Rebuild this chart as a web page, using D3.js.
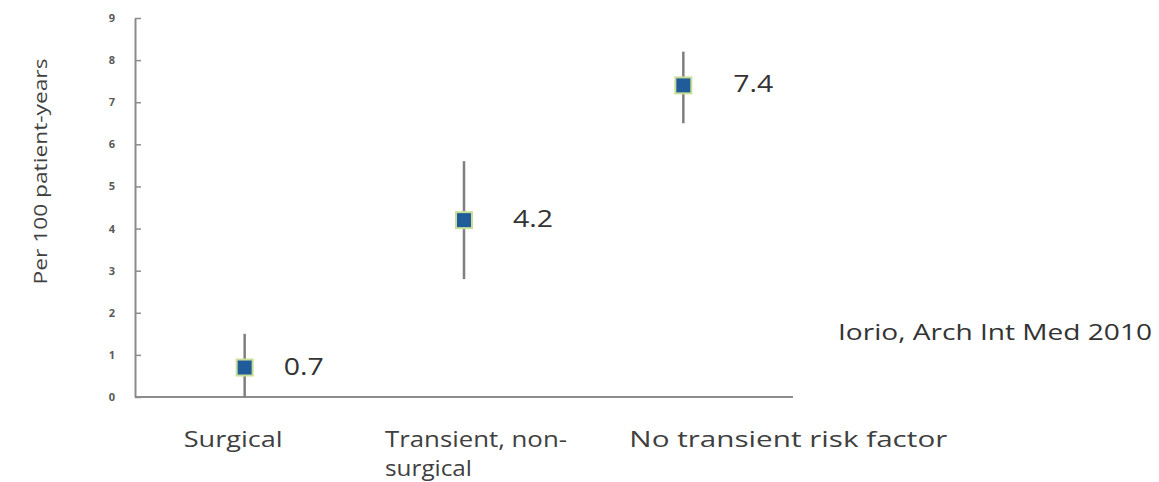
<!DOCTYPE html>
<html>
<head>
<meta charset="utf-8">
<script src="https://cdn.jsdelivr.net/npm/d3@7"></script>
<style>
  html, body { margin: 0; padding: 0; background: #fff; }
  svg { display: block; }
  text { font-family: "Open Sans", "Noto Sans", sans-serif; }
</style>
</head>
<body>
<svg id="chart" width="1159" height="482"></svg>
<script>
// Recurrence rate by type of provoking factor (per 100 patient-years)
const categories = ["Surgical", "Transient, non-surgical", "No transient risk factor"];
const categoryLines = [["Surgical"], ["Transient, non-", "surgical"], ["No transient risk factor"]];
const rates = [0.7, 4.2, 7.4];
const ciLow = [0.0, 2.8, 6.5];
const ciHigh = [1.5, 5.6, 8.2];
const yTicks = [0, 1, 2, 3, 4, 5, 6, 7, 8, 9];
const yTitle = "Per 100 patient-years";
const source = "Iorio, Arch Int Med 2010";

const svg = d3.select("#chart");
const plot = { left: 135, right: 793, top: 18, bottom: 397 };

const x = d3.scaleBand().domain(categories).range([plot.left, plot.right]);
const y = d3.scaleLinear().domain([0, 9]).range([plot.bottom, plot.top]);
const cx = d => x(d) + x.bandwidth() / 2;

// the slide text is set wide; widen a text run to a given length
const widen = (sel, len) => sel.attr("textLength", len).attr("lengthAdjust", "spacingAndGlyphs");

// y axis: ticks point into the plot
const yAxis = svg.append("g")
  .attr("transform", `translate(${plot.left},0)`)
  .call(d3.axisLeft(y).tickValues(yTicks).tickSize(-6).tickPadding(20).tickSizeOuter(0));
yAxis.select(".domain").attr("stroke", "#8c8c8c").attr("stroke-width", 2);
yAxis.selectAll(".tick line").attr("stroke", "#8c8c8c").attr("stroke-width", 1.5);
yAxis.selectAll(".tick text")
  .attr("fill", "#595959").attr("font-size", 11).attr("font-weight", "bold");

// x axis baseline
svg.append("line")
  .attr("x1", plot.left).attr("x2", plot.right)
  .attr("y1", y(0)).attr("y2", y(0))
  .attr("stroke", "#8c8c8c").attr("stroke-width", 2);

// y title
svg.append("text")
  .attr("transform", `translate(47,${(y(0) + y(9)) / 2 - 36}) rotate(-90)`)
  .attr("text-anchor", "middle")
  .attr("font-size", 19)
  .attr("fill", "#404040")
  .text(yTitle)
  .call(widen, 226);

// category labels under the axis
const lineWidths = [[99], [182, 87], [318]];
const labelLeft = [-61, -79, -54];
svg.append("g").selectAll("text")
  .data(categories)
  .join("text")
  .attr("font-size", 21)
  .attr("fill", "#404040")
  .attr("y", 447)
  .each(function (d, i) {
    const t = d3.select(this);
    categoryLines[i].forEach((line, j) => {
      t.append("tspan")
        .attr("x", cx(d) + labelLeft[i])
        .attr("dy", j === 0 ? 0 : 29)
        .text(line)
        .call(widen, lineWidths[i][j]);
    });
  });

// interval whiskers
svg.append("g").selectAll("line")
  .data(categories)
  .join("line")
  .attr("x1", cx).attr("x2", cx)
  .attr("y1", (d, i) => y(ciLow[i]))
  .attr("y2", (d, i) => y(ciHigh[i]))
  .attr("stroke", "#7f7f7f").attr("stroke-width", 2.5);

// point estimates
const m = 16;
svg.append("g").selectAll("rect")
  .data(categories)
  .join("rect")
  .attr("x", d => cx(d) - m / 2)
  .attr("y", (d, i) => y(rates[i]) - m / 2)
  .attr("width", m).attr("height", m)
  .attr("fill", "#1f5c99")
  .attr("stroke", "#c9df98").attr("stroke-width", 2);

// value labels beside each marker
const valueGap = [39, 49, 50];
svg.append("g").selectAll("text")
  .data(categories)
  .join("text")
  .attr("x", (d, i) => cx(d) + valueGap[i])
  .attr("y", (d, i) => y(rates[i]) + 7)
  .attr("font-size", 23)
  .attr("fill", "#333")
  .text((d, i) => rates[i].toFixed(1))
  .call(widen, 40);

// source note
svg.append("text")
  .attr("x", 838).attr("y", 340)
  .attr("font-size", 21)
  .attr("fill", "#333")
  .text(source)
  .call(widen, 314);
</script>
</body>
</html>
